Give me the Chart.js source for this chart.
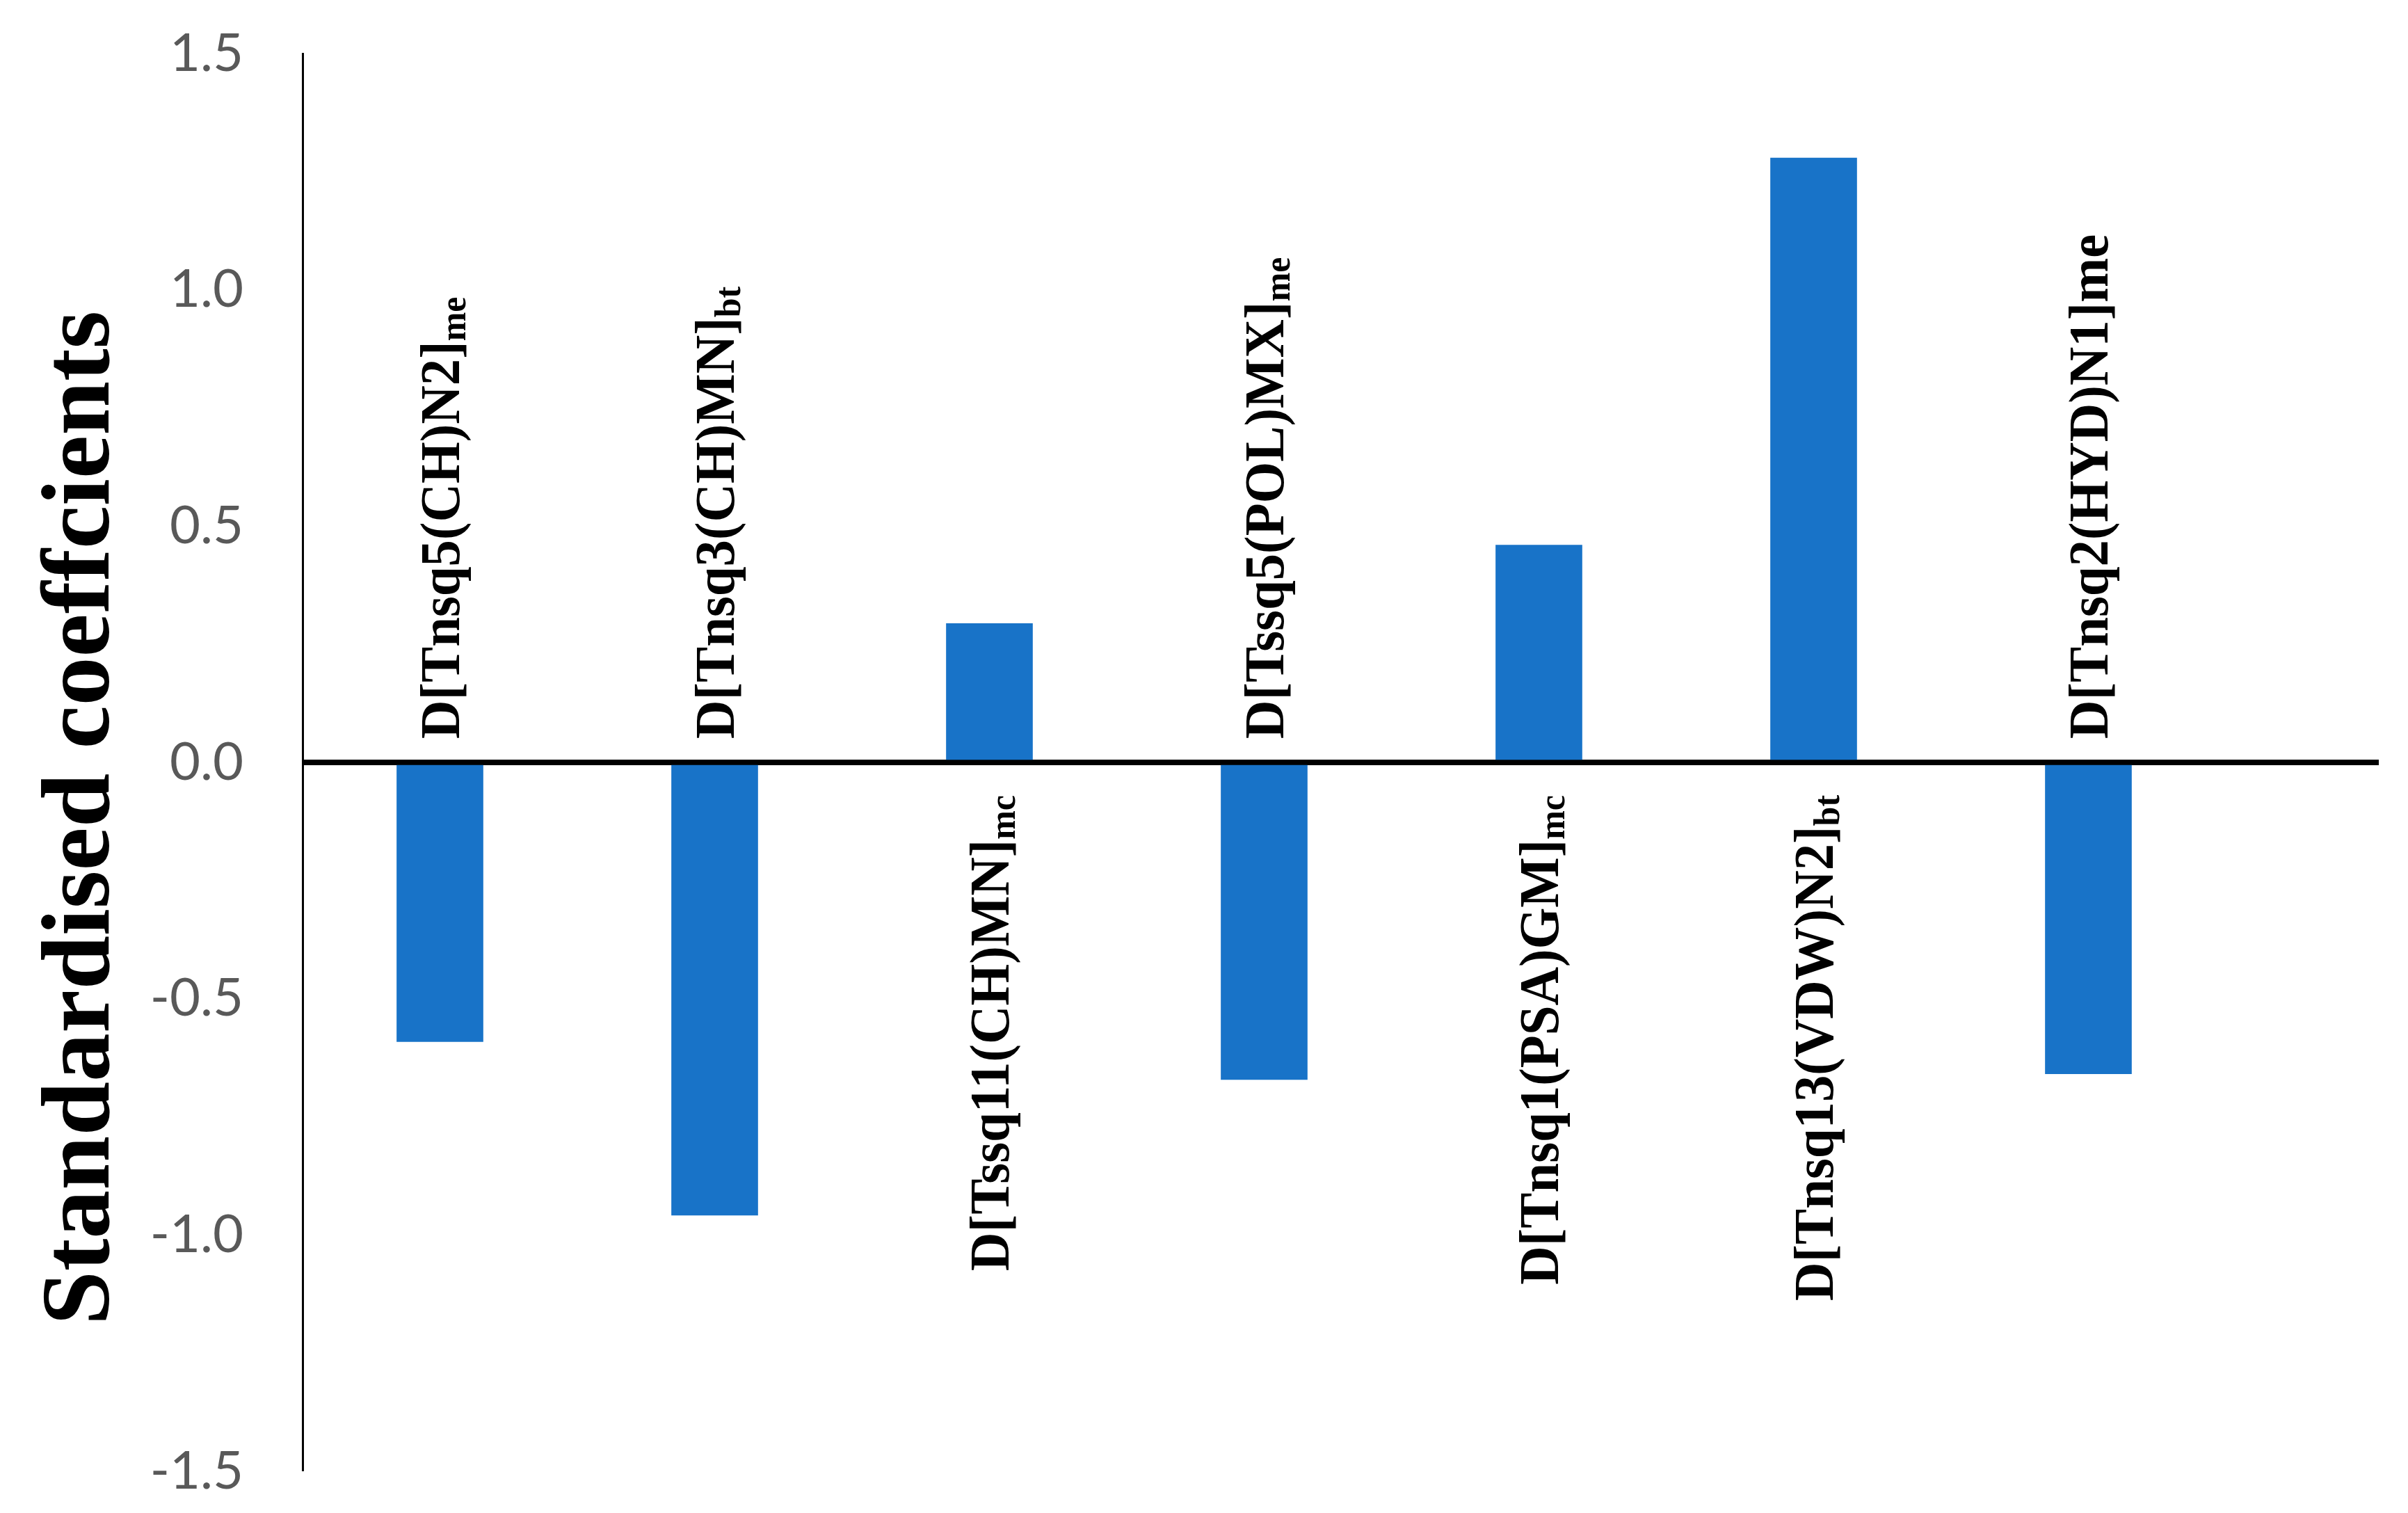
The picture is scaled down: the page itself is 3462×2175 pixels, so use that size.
<!DOCTYPE html>
<html>
<head>
<meta charset="utf-8">
<script src="https://cdn.jsdelivr.net/npm/chart.js@4.4.1/dist/chart.umd.min.js"></script>
<style>
  html, body { margin: 0; padding: 0; background: #ffffff; }
  #wrap { width: 3462px; height: 2175px; }
</style>
</head>
<body>
<div id="wrap"><canvas id="c" width="3462" height="2175"></canvas></div>
<script>
// ---- data ----
const categories = [
  "D[Tnsq5(CH)N2]",
  "D[Tnsq3(CH)MN]",
  "D[Tssq11(CH)MN]",
  "D[Tssq5(POL)MX]",
  "D[Tnsq1(PSA)GM]",
  "D[Tnsq13(VDW)N2]",
  "D[Tnsq2(HYD)N1]me"
];
const subscripts = ["me", "bt", "mc", "me", "mc", "bt", ""];
const coefficients = [-0.591, -0.958, 0.294, -0.671, 0.460, 1.279, -0.659];
const yTicks = [-1.5, -1.0, -0.5, 0.0, 0.5, 1.0, 1.5];
const yTitle = "Standardised coeffcients";

const BAR_COLOR = "#1873C8";
const SERIF = '"Liberation Serif", "Times New Roman", serif';

const points = coefficients.map((v, i) => ({ x: i, y: v }));

const labelPlugin = {
  id: "barLabels",
  afterDraw(chart) {
    const ctx = chart.ctx;
    const xs = chart.scales.x, ys = chart.scales.y;
    const zero = ys.getPixelForValue(0);
    const mainFont = "bold 80px " + SERIF;
    const subFont = "bold 52px " + SERIF;
    const squeeze = 0.96;
    ctx.save();
    ctx.fillStyle = "#000000";
    ctx.textBaseline = "alphabetic";
    ctx.textAlign = "left";
    categories.forEach((name, i) => {
      const cx = xs.getPixelForValue(i);
      const sub = subscripts[i];
      ctx.font = mainFont;
      const wMain = ctx.measureText(name).width;
      ctx.font = subFont;
      const wSub = sub ? ctx.measureText(sub).width : 0;
      const total = (wMain + wSub) * squeeze;
      const baseX = cx + 28;
      let startY;
      if (coefficients[i] < 0) {
        startY = zero - 34;
      } else {
        startY = zero + 47 + total;
      }
      ctx.save();
      ctx.translate(baseX, startY);
      ctx.rotate(-Math.PI / 2);
      ctx.scale(squeeze, 1);
      ctx.font = mainFont;
      ctx.fillText(name, 0, 0);
      if (sub) {
        ctx.font = subFont;
        ctx.fillText(sub, wMain, 9);
      }
      ctx.restore();
    });
    // y axis title
    ctx.save();
    ctx.translate(156, 1176);
    ctx.rotate(-Math.PI / 2);
    ctx.textAlign = "center";
    ctx.font = "bold 140px " + SERIF;
    ctx.fillText(yTitle, 0, 0);
    ctx.restore();
    ctx.restore();
  }
};

new Chart(document.getElementById("c"), {
  type: "bar",
  data: {
    datasets: [{
      data: points,
      backgroundColor: BAR_COLOR,
      borderWidth: 0,
      barThickness: 124
    }]
  },
  options: {
    responsive: false,
    animation: false,
    devicePixelRatio: 1,
    layout: { padding: { left: 0, right: 42, top: 77, bottom: 60 } },
    plugins: { legend: { display: false }, tooltip: { enabled: false } },
    scales: {
      x: {
        type: "linear",
        display: false,
        offset: false,
        min: -0.5,
        max: 7.057
      },
      y: {
        min: -1.5,
        max: 1.5,
        z: 1,
        afterFit(scale) {
          scale.width = 435;
          scale.paddingTop = 0;
          scale.paddingBottom = 0;
        },
        afterBuildTicks(scale) { scale.ticks = yTicks.map(v => ({ value: v })); },
        border: { display: true, color: "#000000", width: 3 },
        grid: {
          drawTicks: false,
          color: (c) => (c.tick && c.tick.value === 0) ? "#000000" : "rgba(0,0,0,0)",
          lineWidth: (c) => (c.tick && c.tick.value === 0) ? 8 : 0
        },
        ticks: {
          padding: 85,
          color: "#595959",
          font: { family: "Lato, 'Open Sans', sans-serif", size: 76 },
          callback: (v) => Number(v).toFixed(1)
        }
      }
    }
  },
  plugins: [labelPlugin]
});
</script>
</body>
</html>
